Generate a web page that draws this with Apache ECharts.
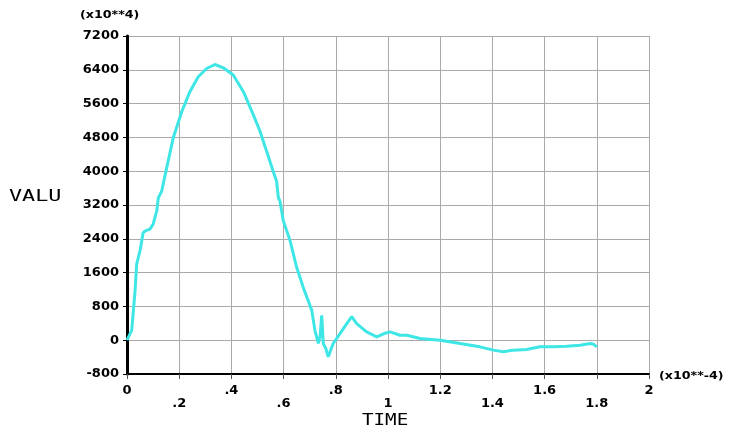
<!DOCTYPE html>
<html>
<head>
<meta charset="utf-8">
<script src="https://cdn.jsdelivr.net/npm/echarts@6/dist/echarts.min.js"></script>
<style>html,body{margin:0;padding:0;background:#fff;}#c{width:729px;height:432px;}</style>
</head>
<body>
<div id="c"></div>
<script>
const timeVals = [0, 0.018, 0.031, 0.037, 0.05, 0.062, 0.075, 0.088, 0.10, 0.114, 0.12, 0.133, 0.152, 0.177, 0.21, 0.241, 0.273, 0.305, 0.337, 0.369, 0.407, 0.446, 0.484, 0.51, 0.535, 0.56, 0.573, 0.58, 0.586, 0.599, 0.625, 0.65, 0.675, 0.708, 0.72, 0.733, 0.74, 0.746, 0.752, 0.762, 0.771, 0.79, 0.816, 0.842, 0.861, 0.88, 0.918, 0.957, 0.985, 1.008, 1.046, 1.072, 1.123, 1.2, 1.276, 1.352, 1.404, 1.442, 1.48, 1.531, 1.582, 1.633, 1.685, 1.736, 1.774, 1.787, 1.8];
const valuVals = [0, 235, 1176, 1800, 2118, 2550, 2600, 2630, 2745, 3060, 3370, 3530, 4078, 4784, 5412, 5882, 6235, 6431, 6525, 6447, 6275, 5882, 5334, 4941, 4470, 4000, 3765, 3372, 3294, 2824, 2353, 1725, 1254, 706, 235, -78, 100, 588, -78, -200, -392, -78, 157, 392, 560, 392, 196, 78, 157, 196, 118, 118, 39, 0, -78, -157, -235, -274, -235, -220, -157, -157, -141, -118, -78, -94, -157];
const xTickLabels = ['0', '.2', '.4', '.6', '.8', '1', '1.2', '1.4', '1.6', '1.8', '2'];
const yTickLabels = ['-800', '0', '800', '1600', '2400', '3200', '4000', '4800', '5600', '6400', '7200'];
const xName = 'TIME', yName = 'VALU', yUnit = '(x10**4)', xUnit = '(x10**-4)';

const chart = echarts.init(document.getElementById('c'));
const lblFont = {fontFamily: 'DejaVu Sans', fontWeight: 'bold', fontSize: 13, color: '#000'};
chart.setOption({
  animation: false,
  backgroundColor: '#fff',
  grid: {left: 127, right: 80, top: 36, bottom: 58, containLabel: false},
  xAxis: {
    type: 'value', min: 0, max: 2, interval: 0.2,
    axisLine: {onZero: false, lineStyle: {color: '#000', width: 2}},
    axisTick: {show: true, length: 5, lineStyle: {color: '#555', width: 1}},
    splitLine: {show: true, lineStyle: {color: '#aaa', width: 1}},
    axisLabel: Object.assign({}, lblFont, {
      margin: 10,
      formatter: function (v) {
        const i = Math.round(v / 0.2);
        const t = xTickLabels[i];
        return i % 2 === 1 ? '{lo|' + t + '}' : '{hi|' + t + '}';
      },
      rich: {
        hi: Object.assign({}, lblFont),
        lo: Object.assign({}, lblFont, {padding: [13, 0, 0, 0]})
      }
    })
  },
  yAxis: {
    type: 'value', min: -800, max: 7200, interval: 800,
    axisLine: {show: true, lineStyle: {color: '#000', width: 3}},
    axisTick: {show: true, length: 4, lineStyle: {color: '#000', width: 1}},
    splitLine: {show: true, lineStyle: {color: '#aaa', width: 1}},
    axisLabel: Object.assign({}, lblFont, {
      margin: 8,
      formatter: function (v) { return yTickLabels[Math.round((v + 800) / 800)]; }
    })
  },
  series: [{
    type: 'line',
    data: timeVals.map((t, i) => [t, valuVals[i]]),
    showSymbol: false,
    lineStyle: {color: '#3ee6e6', width: 3},
    itemStyle: {color: '#3ee6e6'}
  }],
  graphic: [
    {type: 'text', left: 9, top: 190, scaleX: 1.45, style: {text: yName, fontFamily: 'DejaVu Sans Mono', fontSize: 15, fill: '#000'}},
    {type: 'text', left: 362, top: 413, scaleX: 1.2, style: {text: xName, fontFamily: 'DejaVu Sans Mono', fontSize: 16, fill: '#000'}},
    {type: 'text', left: 80, top: 10, scaleX: 1.15, style: {text: yUnit, fontFamily: 'DejaVu Sans', fontWeight: 'bold', fontSize: 11, fill: '#000'}},
    {type: 'text', left: 659, top: 371, scaleX: 1.15, style: {text: xUnit, fontFamily: 'DejaVu Sans', fontWeight: 'bold', fontSize: 11, fill: '#000'}}
  ]
});
</script>
</body>
</html>
